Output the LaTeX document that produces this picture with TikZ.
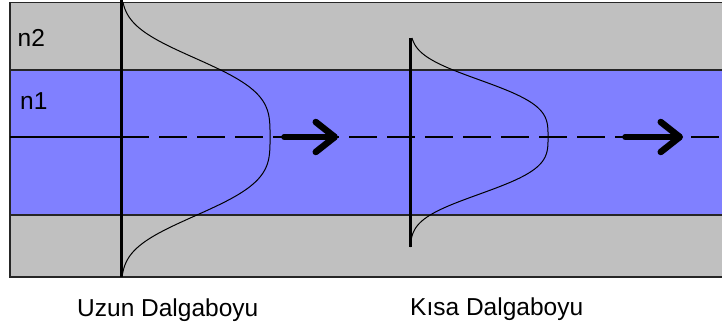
\documentclass[tikz,border=0pt]{standalone}
\usepackage{fontspec}
\setmainfont{Liberation Sans}
\usetikzlibrary{arrows.meta}

\definecolor{cladgray}{RGB}{192,192,192}
\definecolor{coreblue}{RGB}{128,128,255}

\tikzset{
  layer/.style={draw=black!85,line width=1.5pt},
  front/.style={line width=3pt},
  profile/.style={line width=1pt},
  axisline/.style={line width=1.2pt},
  dirarrow/.style={line width=5.5pt,line cap=round,
    -{Straight Barb[length=19pt,width=30pt,line width=6.5pt,line cap=round,line join=round]}},
  label/.style={font=\fontsize{24.5}{28}\selectfont,inner sep=0pt}
}

\begin{document}
\begin{tikzpicture}[x=1pt,y=-1pt]
\useasboundingbox (0,0) rectangle (722,326);
\clip (0,0) rectangle (722,326);
\fill[white] (0,0) rectangle (722,326);
% cladding and core
\draw[layer,fill=cladgray] (10,2.5) rectangle (740,277);
\draw[layer,fill=coreblue] (10,70) rectangle (740,215);
\node[label,anchor=base west] (n2) at (17.5,47) {n2};
\node[label,anchor=base west] (n1) at (20,110) {n1};
% axis
\coordinate (axisleft) at (10,137);
\coordinate (axismid) at (121,137);
\coordinate (axisright) at (722,137);
\draw[axisline] (axisleft) -- (axismid);
\draw[axisline,dash pattern=on 28pt off 10pt] (axismid) -- (axisright);
% long wavelength
\coordinate (longtop) at (121,0);
\coordinate (longbot) at (121,277);
\draw[profile] plot[domain=-135:139,samples=120,smooth]
  ({121+149*exp(-((abs(\x)+0.01)/87.6)^3.4)},{137+\x});
\draw[front] (longtop) -- (longbot);
\coordinate (longtail) at (284,137);
\coordinate (longtip) at (338,137);
\draw[dirarrow] (longtail) -- (longtip);
% short wavelength
\coordinate (shorttop) at (410,38);
\coordinate (shortbot) at (410,247);
\draw[profile] plot[domain=-99:110,samples=120,smooth]
  ({410+138*exp(-((abs(\x)+0.01)/64)^3.3)},{137+\x});
\draw[front] (shorttop) -- (shortbot);
\coordinate (shorttail) at (625,137);
\coordinate (shorttip) at (683,137);
\draw[dirarrow] (shorttail) -- (shorttip);
% captions
\node[label,anchor=base west] (uzun) at (77,316) {Uzun Dalgaboyu};
\node[label,anchor=base west] (kisa) at (410,315) {Kısa Dalgaboyu};
\end{tikzpicture}
\end{document}
